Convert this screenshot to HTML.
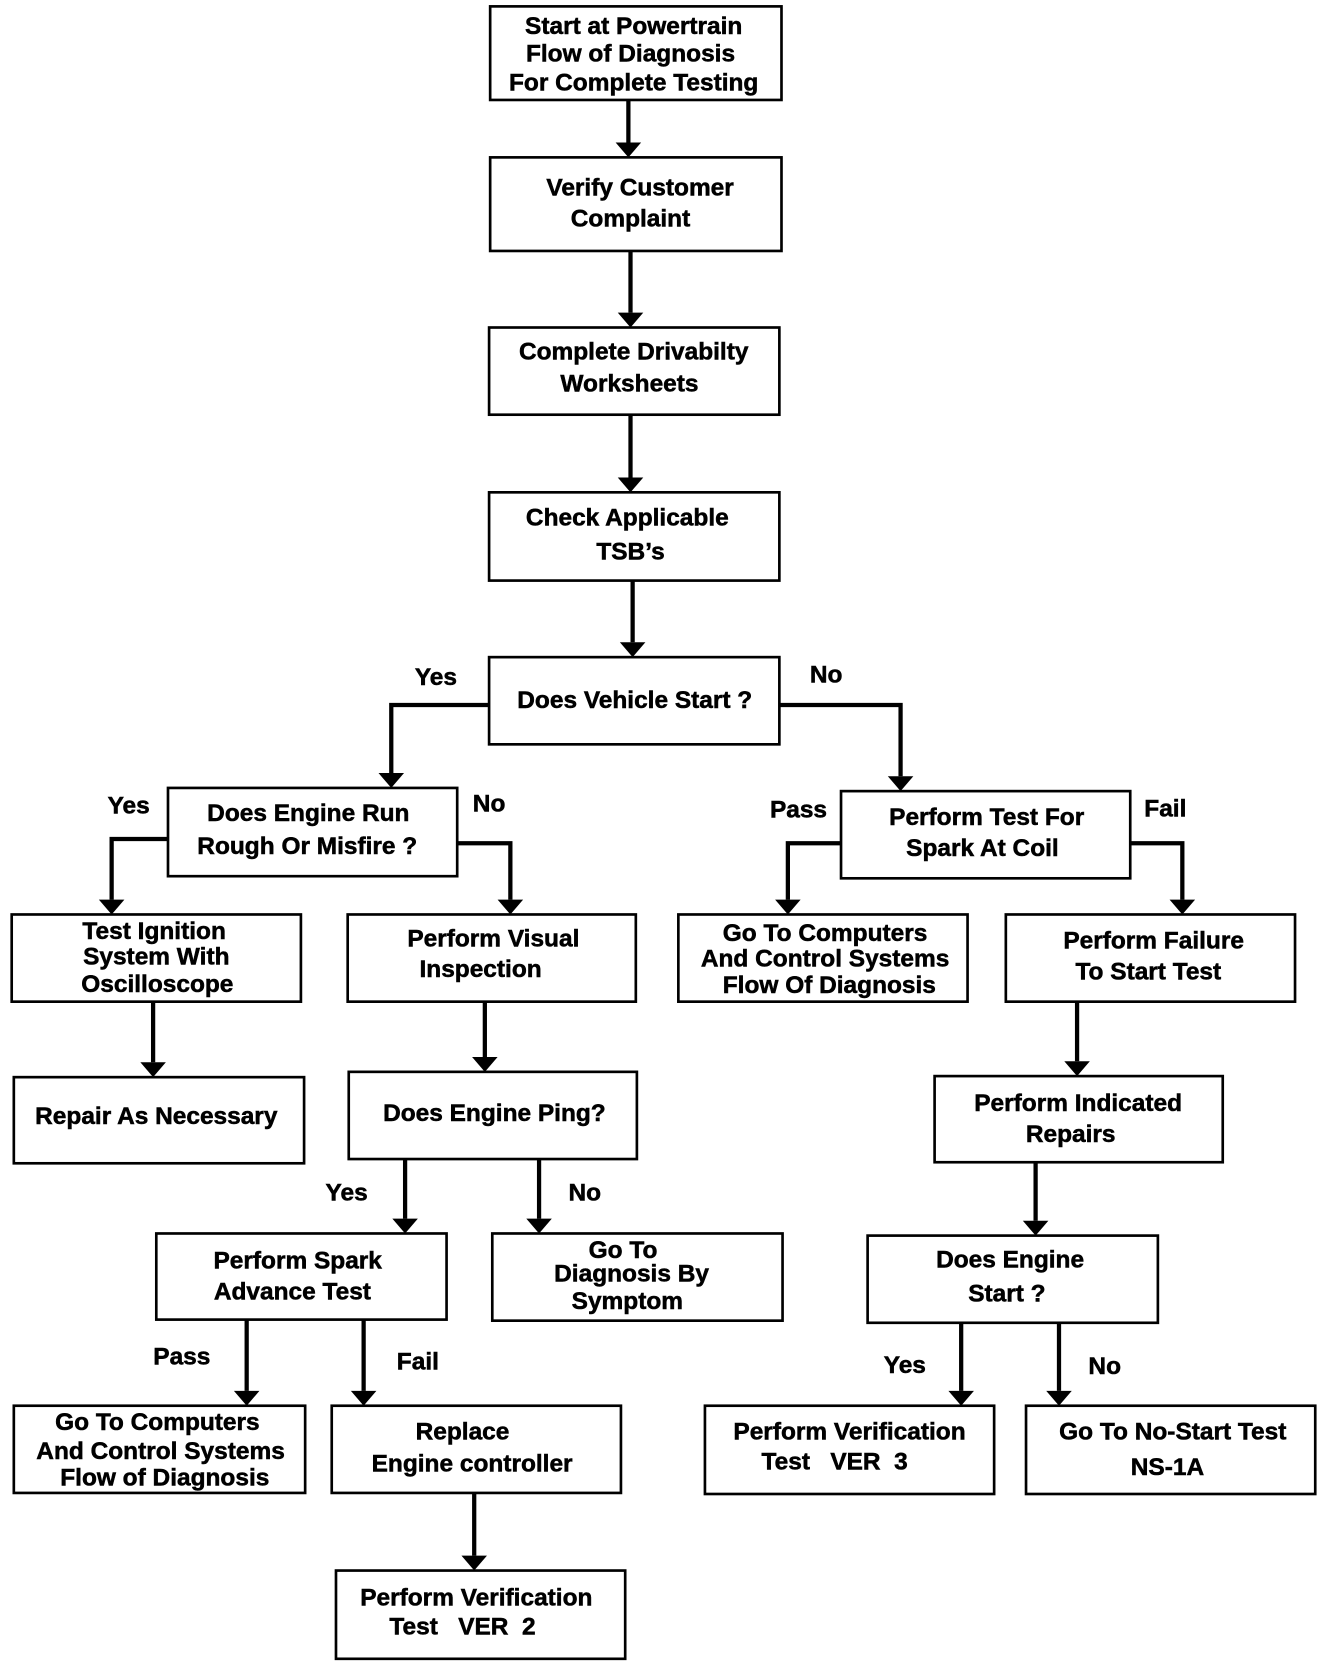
<!DOCTYPE html>
<html><head><meta charset="utf-8"><style>
html,body{margin:0;padding:0;background:#fff;}
svg{display:block;}
text{font-family:"Liberation Sans",Arial,sans-serif;font-weight:bold;font-size:23px;fill:#000;stroke:#000;stroke-width:0.5;text-anchor:middle;}
rect{fill:#fff;stroke:#000;stroke-width:2.5;}
.l{fill:none;stroke:#000;stroke-width:4;}
</style></head><body>
<svg width="1328" height="1662" viewBox="0 0 1249 1563" preserveAspectRatio="none" xmlns="http://www.w3.org/2000/svg">
<g class="l">
<path class="l" d="M591 94V134"/>
<path class="l" d="M593 236V294"/>
<path class="l" d="M593 390V449"/>
<path class="l" d="M595 546V604"/>
<path class="l" d="M460 663H368V727"/>
<path class="l" d="M733 663H847V730"/>
<path class="l" d="M158 789H105V846"/>
<path class="l" d="M430 793H480V846"/>
<path class="l" d="M791 793H741V846"/>
<path class="l" d="M1063 793H1112V846"/>
<path class="l" d="M144 942V999"/>
<path class="l" d="M456 942V994"/>
<path class="l" d="M1013 942V998"/>
<path class="l" d="M381 1090V1146"/>
<path class="l" d="M507 1090V1146"/>
<path class="l" d="M974 1093V1148"/>
<path class="l" d="M232 1241V1308"/>
<path class="l" d="M342 1241V1308"/>
<path class="l" d="M904 1244V1308"/>
<path class="l" d="M996 1244V1308"/>
<path class="l" d="M446 1404V1463"/>
</g>
<g fill="#000">
<polygon points="579,134 603,134 591,148"/>
<polygon points="581,294 605,294 593,308"/>
<polygon points="581,449 605,449 593,463"/>
<polygon points="583,604 607,604 595,618"/>
<polygon points="356,727 380,727 368,741"/>
<polygon points="835,730 859,730 847,744"/>
<polygon points="93,846 117,846 105,860"/>
<polygon points="468,846 492,846 480,860"/>
<polygon points="729,846 753,846 741,860"/>
<polygon points="1100,846 1124,846 1112,860"/>
<polygon points="132,999 156,999 144,1013"/>
<polygon points="444,994 468,994 456,1008"/>
<polygon points="1001,998 1025,998 1013,1012"/>
<polygon points="369,1146 393,1146 381,1160"/>
<polygon points="495,1146 519,1146 507,1160"/>
<polygon points="962,1148 986,1148 974,1162"/>
<polygon points="220,1308 244,1308 232,1322"/>
<polygon points="330,1308 354,1308 342,1322"/>
<polygon points="892,1308 916,1308 904,1322"/>
<polygon points="984,1308 1008,1308 996,1322"/>
<polygon points="434,1463 458,1463 446,1477"/>
</g>
<rect x="461" y="6" width="274" height="88"/>
<rect x="461" y="148" width="274" height="88"/>
<rect x="460" y="308" width="273" height="82"/>
<rect x="460" y="463" width="273" height="83"/>
<rect x="460" y="618" width="273" height="82"/>
<rect x="158" y="741" width="272" height="83"/>
<rect x="791" y="744" width="272" height="82"/>
<rect x="11" y="860" width="272" height="82"/>
<rect x="327" y="860" width="271" height="82"/>
<rect x="638" y="860" width="272" height="82"/>
<rect x="946" y="860" width="272" height="82"/>
<rect x="13" y="1013" width="273" height="81"/>
<rect x="328" y="1008" width="271" height="82"/>
<rect x="879" y="1012" width="271" height="81"/>
<rect x="147" y="1160" width="273" height="81"/>
<rect x="463" y="1160" width="273" height="82"/>
<rect x="816" y="1162" width="273" height="82"/>
<rect x="13" y="1322" width="274" height="82"/>
<rect x="312" y="1322" width="272" height="82"/>
<rect x="663" y="1322" width="272" height="83"/>
<rect x="965" y="1322" width="272" height="83"/>
<rect x="316" y="1477" width="272" height="83"/>
<g style="font-size:21px">
<text x="596" y="32">Start at Powertrain</text>
<text x="593" y="58">Flow of Diagnosis</text>
<text x="596" y="85">For Complete Testing</text>
</g>
<text x="602" y="184">Verify Customer</text>
<text x="593" y="213">Complaint</text>
<text x="596" y="338">Complete Drivabilty</text>
<text x="592" y="368">Worksheets</text>
<text x="590" y="494">Check Applicable</text>
<text x="593" y="526">TSB’s</text>
<text x="597" y="666">Does Vehicle Start ?</text>
<text x="290" y="772">Does Engine Run</text>
<text x="289" y="803">Rough Or Misfire ?</text>
<text x="928" y="776">Perform Test For</text>
<text x="924" y="805">Spark At Coil</text>
<text x="145" y="883">Test Ignition</text>
<text x="147" y="907">System With</text>
<text x="148" y="933">Oscilloscope</text>
<text x="464" y="890">Perform Visual</text>
<text x="452" y="919">Inspection</text>
<text x="776" y="885">Go To Computers</text>
<text x="776" y="909">And Control Systems</text>
<text x="780" y="934">Flow Of Diagnosis</text>
<text x="1085" y="892">Perform Failure</text>
<text x="1080" y="921">To Start Test</text>
<text x="147" y="1057">Repair As Necessary</text>
<text x="465" y="1054">Does Engine Ping?</text>
<text x="1014" y="1045">Perform Indicated</text>
<text x="1007" y="1074">Repairs</text>
<text x="280" y="1193">Perform Spark</text>
<text x="275" y="1222">Advance Test</text>
<text x="586" y="1183">Go To</text>
<text x="594" y="1205">Diagnosis By</text>
<text x="590" y="1231">Symptom</text>
<text x="950" y="1192">Does Engine</text>
<text x="947" y="1224">Start ?</text>
<text x="148" y="1345">Go To Computers</text>
<text x="151" y="1372">And Control Systems</text>
<text x="155" y="1397">Flow of Diagnosis</text>
<text x="435" y="1354">Replace</text>
<text x="444" y="1384">Engine controller</text>
<text x="799" y="1354">Perform Verification</text>
<text x="785" y="1382">Test&#160;&#160;&#160;VER&#160;&#160;3</text>
<text x="1103" y="1354">Go To No-Start Test</text>
<text x="1098" y="1387">NS-1A</text>
<text x="448" y="1510">Perform Verification</text>
<text x="435" y="1537">Test&#160;&#160;&#160;VER&#160;&#160;2</text>
<text x="410" y="644">Yes</text>
<text x="777" y="642">No</text>
<text x="121" y="765">Yes</text>
<text x="460" y="763">No</text>
<text x="751" y="769">Pass</text>
<text x="1096" y="768">Fail</text>
<text x="326" y="1129">Yes</text>
<text x="550" y="1129">No</text>
<text x="171" y="1283">Pass</text>
<text x="393" y="1288">Fail</text>
<text x="851" y="1291">Yes</text>
<text x="1039" y="1292">No</text>
</svg>
</body></html>
